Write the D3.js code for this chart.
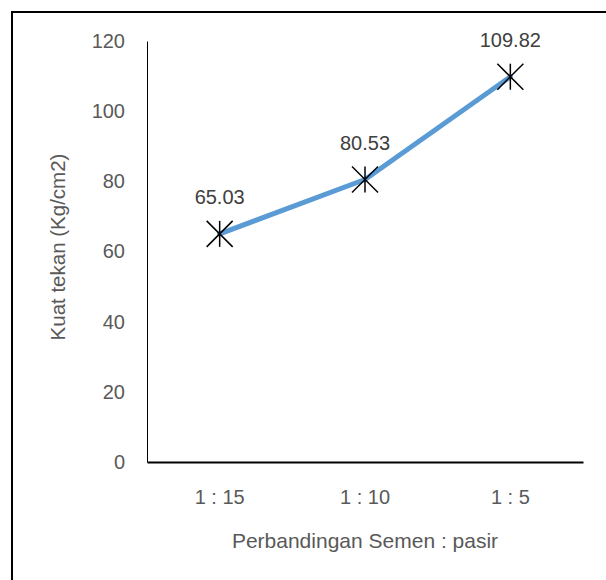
<!DOCTYPE html>
<html>
<head>
<meta charset="utf-8">
<script src="https://cdn.jsdelivr.net/npm/d3@7"></script>
<style>
  html, body { margin: 0; padding: 0; background: #fff; }
  svg { display: block; }
</style>
</head>
<body>
<svg id="chart" width="606" height="580"></svg>
<script>
// Compressive strength by cement : sand ratio
const categories = ["1 : 15", "1 : 10", "1 : 5"];
const values = [65.03, 80.53, 109.82];
const valueLabels = ["65.03", "80.53", "109.82"];
const yTicks = [0, 20, 40, 60, 80, 100, 120];

const W = 606, H = 580;
const plot = { left: 147, right: 583, top: 41, bottom: 462 };
const textColor = "#595959";
const font = "'Liberation Sans', Arial, sans-serif";
const fs = "20px";

const svg = d3.select("#chart");

// outer frame
svg.append("rect")
  .attr("x", 12).attr("y", 12)
  .attr("width", W + 20).attr("height", H + 20)
  .attr("fill", "none").attr("stroke", "#000").attr("stroke-width", 2);

const x = d3.scaleBand().domain(categories).range([plot.left, plot.right]);
const y = d3.scaleLinear().domain([0, 120]).range([plot.bottom, plot.top]);

// y axis
const yAxis = svg.append("g")
  .attr("transform", `translate(${plot.left},0)`)
  .call(d3.axisLeft(y).tickValues(yTicks).tickSize(0).tickPadding(22));
yAxis.select(".domain").attr("stroke", "#000").attr("stroke-width", 1);
yAxis.selectAll("text")
  .attr("fill", textColor).style("font-family", font).style("font-size", fs);

// x axis
const xAxis = svg.append("g")
  .attr("transform", `translate(0,${plot.bottom})`)
  .call(d3.axisBottom(x).tickSize(0).tickPadding(28));
xAxis.select(".domain").attr("stroke", "#000").attr("stroke-width", 2);
xAxis.selectAll("text")
  .attr("fill", textColor).style("font-family", font).style("font-size", fs);

// axis titles
svg.append("text")
  .attr("transform", `translate(65,247) rotate(-90)`)
  .attr("text-anchor", "middle")
  .attr("fill", textColor).style("font-family", font).style("font-size", "20.5px")
  .text("Kuat tekan (Kg/cm2)");

svg.append("text")
  .attr("x", (plot.left + plot.right) / 2)
  .attr("y", 548)
  .attr("text-anchor", "middle")
  .attr("fill", textColor).style("font-family", font).style("font-size", "21px")
  .text("Perbandingan Semen : pasir");

const pts = categories.map((c, i) => ({ c, v: values[i], label: valueLabels[i] }));
const cx = d => x(d.c) + x.bandwidth() / 2;

// series line
svg.append("path")
  .datum(pts)
  .attr("fill", "none")
  .attr("stroke", "#5B9BD5")
  .attr("stroke-width", 5)
  .attr("stroke-linejoin", "round")
  .attr("stroke-linecap", "round")
  .attr("d", d3.line().x(cx).y(d => y(d.v)));

// star markers
const s = 13;
const mk = svg.append("g").selectAll("g").data(pts).join("g")
  .attr("transform", d => `translate(${cx(d)},${y(d.v)})`)
  .attr("stroke", "#000").attr("stroke-width", 1.5);
mk.append("line").attr("x1", -s).attr("y1", -s).attr("x2", s).attr("y2", s);
mk.append("line").attr("x1", -s).attr("y1", s).attr("x2", s).attr("y2", -s);
mk.append("line").attr("x1", 0).attr("y1", -s).attr("x2", 0).attr("y2", s);

// value labels
svg.append("g").selectAll("text").data(pts).join("text")
  .attr("x", cx)
  .attr("y", d => y(d.v) - 29.5)
  .attr("text-anchor", "middle")
  .attr("fill", "#404040").style("font-family", font).style("font-size", fs)
  .text(d => d.label);
</script>
</body>
</html>
